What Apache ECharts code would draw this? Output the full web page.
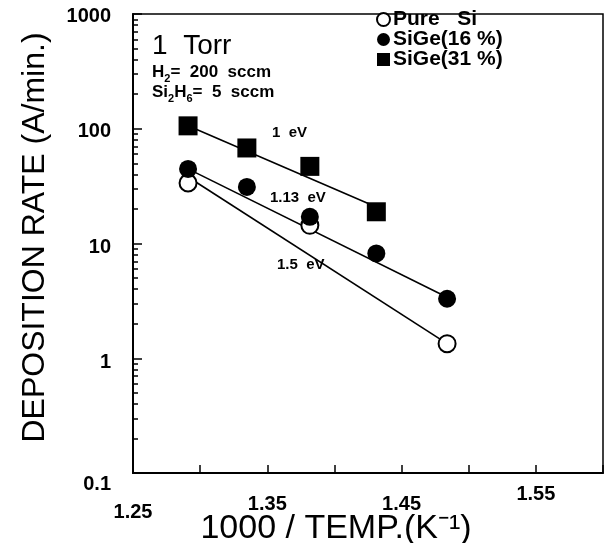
<!DOCTYPE html>
<html>
<head>
<meta charset="utf-8">
<script src="https://cdn.jsdelivr.net/npm/echarts@6/dist/echarts.min.js"></script>
<style>
html,body{margin:0;padding:0;background:#fff;}
#chart{width:608px;height:543px;}
</style>
</head>
<body>
<div id="chart"></div>
<script>
// ---- data ----
var seriesNames = ['Pure   Si', 'SiGe(16 %)', 'SiGe(31 %)'];
var pureSiX = [1.291, 1.3817, 1.4839];
var pureSiY = [33.7, 14.4, 1.34];
var sige16X = [1.291, 1.3348, 1.3817, 1.4312, 1.4839];
var sige16Y = [44.7, 31.1, 17.1, 8.2, 3.3];
var sige31X = [1.291, 1.3348, 1.3817, 1.4312];
var sige31Y = [106, 68, 47, 18.9];
// fitted lines (endpoints)
var fitPureX = [1.291, 1.4839];
var fitPureY = [38, 1.34];
var fit16X = [1.291, 1.4839];
var fit16Y = [44.7, 3.4];
var fit31X = [1.291, 1.4312];
var fit31Y = [106, 20.8];
// axis ticks / labels
var xLabelValues = [1.25, 1.35, 1.45, 1.55];
var yLabelValues = [0.1, 1, 10, 100, 1000];
var annotations = ['1 eV', '1.13 eV', '1.5 eV'];

function pairs(xs, ys) { return xs.map(function (x, i) { return [x, ys[i]]; }); }

var yMinor = [];
for (var d = 0; d < yLabelValues.length - 1; d++) {
  for (var m = 2; m <= 9; m++) yMinor.push(+(yLabelValues[d] * m).toPrecision(3));
}

var FONT = 'Liberation Sans';
var chart = echarts.init(document.getElementById('chart'), null, {renderer: 'canvas'});

var xRich = {
  a0: {padding: [18, 0, 0, 0]},
  a1: {padding: [10, 0, 0, 0]},
  a2: {padding: [10, 0, 0, 0]},
  a3: {padding: [0, 0, 0, 0]}
};
var yRich = {
  b0: {padding: [22, 0, 0, 0]},
  b1: {padding: [8, 0, 0, 0]},
  b2: {padding: [8, 0, 0, 0]},
  b3: {padding: [6, 0, 0, 0]},
  b4: {padding: [5, 0, 0, 0]}
};
var subRich = {
  m: {font: 'bold 17px "Liberation Sans"', fill: '#000', verticalAlign: 'bottom'},
  s: {font: 'bold 11px "Liberation Sans"', fill: '#000', verticalAlign: 'bottom', padding: [0, 0, -3, 0]}
};

var option = {
  backgroundColor: '#fff',
  animation: false,
  grid: {left: 133, top: 14, right: 5, bottom: 70, containLabel: false, outerBoundsMode: 'none',
    show: true, borderColor: '#000', borderWidth: 1.5, backgroundColor: 'transparent'},
  xAxis: {
    type: 'value', min: 1.25, max: 1.6, interval: 0.05,
    axisLine: {show: true, lineStyle: {color: '#000', width: 2}},
    axisTick: {show: true, inside: true, length: 8, lineStyle: {color: '#000', width: 1.5}},
    splitLine: {show: false},
    axisLabel: {
      show: true, customValues: xLabelValues,
      margin: 11, color: '#000', fontFamily: FONT, fontWeight: 'bold', fontSize: 20,
      formatter: function (v) {
        var i = xLabelValues.findIndex(function (t) { return Math.abs(t - v) < 1e-6; });
        return '{a' + i + '|' + v.toFixed(2) + '}';
      },
      rich: xRich
    },
    name: '1000 / TEMP.(K⁻¹)',
    nameLocation: 'middle', nameGap: 39, nameMoveOverlap: false,
    nameTextStyle: {color: '#000', fontFamily: FONT, fontSize: 34, padding: [0, 64, 0, 0]}
  },
  yAxis: [{
    type: 'log', logBase: 10, min: 0.1, max: 1000,
    axisLine: {show: true, lineStyle: {color: '#000', width: 2}},
    axisTick: {show: true, inside: true, length: 9, customValues: yLabelValues, lineStyle: {color: '#000', width: 1.5}},
    splitLine: {show: false},
    axisLabel: {
      show: true, customValues: yLabelValues,
      margin: 22, color: '#000', fontFamily: FONT, fontWeight: 'bold', fontSize: 20,
      formatter: function (v) {
        var i = yLabelValues.findIndex(function (t) { return Math.abs(t - v) / t < 1e-6; });
        return '{b' + i + '|' + yLabelValues[i] + '}';
      },
      rich: yRich
    },
    name: 'DEPOSITION RATE (A/min.)',
    nameLocation: 'middle', nameGap: 82, nameRotate: 90, nameMoveOverlap: false,
    nameTextStyle: {color: '#000', fontFamily: FONT, fontSize: 32, padding: [0, 0, 0, 12]}
  }, {
    type: 'log', logBase: 10, min: 0.1, max: 1000, position: 'left',
    axisLine: {show: false},
    axisTick: {show: true, inside: true, length: 5, customValues: yMinor, lineStyle: {color: '#000', width: 1.5}},
    axisLabel: {show: false},
    splitLine: {show: false}
  }],
  legend: {
    orient: 'vertical', left: 371, top: 4, itemGap: -1,
    itemWidth: 13, itemHeight: 13,
    data: seriesNames,
    textStyle: {color: '#000', fontFamily: FONT, fontWeight: 'bold', fontSize: 21, lineHeight: 19.5, padding: [0, 0, 0, -2]}
  },
  graphic: [
    {type: 'text', left: 152, top: 32, style: {text: '1  Torr', font: '28px "Liberation Sans"', fill: '#000'}},
    {type: 'text', left: 152, top: 64, style: {text: '{m|H}{s|2}{m|=  200  sccm}', rich: subRich}},
    {type: 'text', left: 152, top: 84, style: {text: '{m|Si}{s|2}{m|H}{s|6}{m|=  5  sccm}', rich: subRich}},
    {type: 'text', left: 272, top: 125, style: {text: annotations[0].replace(' ', '  '), font: 'bold 15px "Liberation Sans"', fill: '#000'}},
    {type: 'text', left: 270, top: 190, style: {text: annotations[1].replace(' ', '  '), font: 'bold 15px "Liberation Sans"', fill: '#000'}},
    {type: 'text', left: 277, top: 257, style: {text: annotations[2].replace(' ', '  '), font: 'bold 15px "Liberation Sans"', fill: '#000'}}
  ],
  series: [
    {type: 'line', data: pairs(fitPureX, fitPureY), showSymbol: false, symbol: 'none', lineStyle: {color: '#000', width: 1.6}, silent: true, z: 1},
    {type: 'line', data: pairs(fit16X, fit16Y), showSymbol: false, symbol: 'none', lineStyle: {color: '#000', width: 1.6}, silent: true, z: 1},
    {type: 'line', data: pairs(fit31X, fit31Y), showSymbol: false, symbol: 'none', lineStyle: {color: '#000', width: 1.6}, silent: true, z: 1},
    {name: seriesNames[0], type: 'scatter', data: pairs(pureSiX, pureSiY), symbol: 'circle', symbolSize: 17,
      itemStyle: {color: '#fff', borderColor: '#000', borderWidth: 2, opacity: 1}, z: 3},
    {name: seriesNames[1], type: 'scatter', data: pairs(sige16X, sige16Y), symbol: 'circle', symbolSize: 18,
      itemStyle: {color: '#000', opacity: 1}, z: 4},
    {name: seriesNames[2], type: 'scatter', data: pairs(sige31X, sige31Y), symbol: 'rect', symbolSize: 19,
      itemStyle: {color: '#000', opacity: 1}, z: 4}
  ]
};
chart.setOption(option);
</script>
</body>
</html>
